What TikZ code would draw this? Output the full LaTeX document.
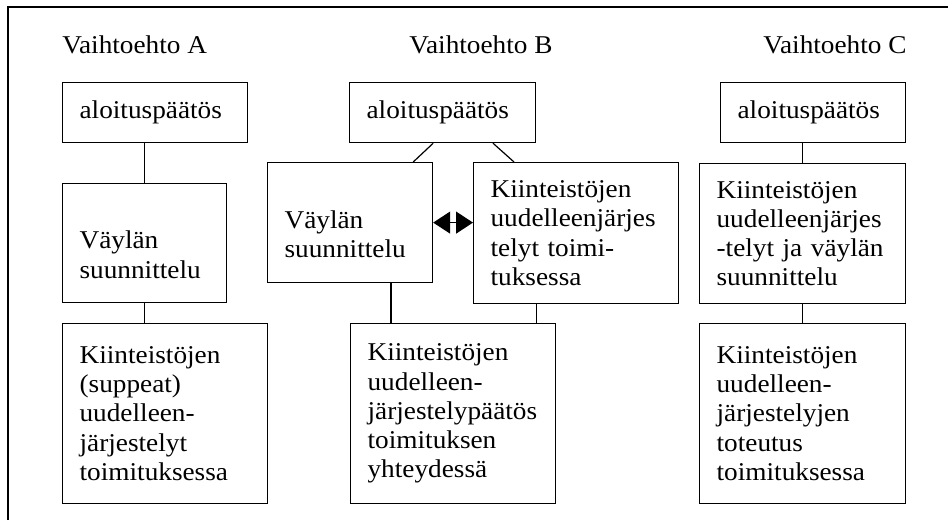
\documentclass[tikz,border=0pt]{standalone}
\usepackage{fontspec}
\setmainfont{Liberation Serif}[FakeStretch=1.065]
\usetikzlibrary{arrows.meta}
\hyphenpenalty=10000

\begin{document}
\begin{tikzpicture}[x=0.5pt, y=-0.5pt,
    font=\fontsize{12.8}{14.6}\selectfont,
    box/.style={draw, rectangle, anchor=north west, align=left, inner xsep=8.5pt, inner ysep=0pt, line width=0.6pt},
    link/.style={line width=0.6pt},
    title/.style={anchor=base west, inner sep=0pt}]
    \useasboundingbox (0,0) rectangle (948,520);
    \draw[line width=0.7pt] (8,520) -- (8,7) -- (948,7);

    % Vaihtoehto A
    \node[title] (otsA) at (62,53) {Vaihtoehto A};
    \node[box, text width=75.5pt, minimum height=30pt] (alkuA) at (62,82) {aloituspäätös};
    \node[box, text width=65pt, minimum height=59.5pt] (vaylaA) at (62,183) {\strut\\Väylän\\suunnittelu\strut};
    \node[box, text width=85.5pt, minimum height=90pt] (kiintA) at (62,323) {Kiinteistöjen\\(suppeat)\\uudelleen-\\järjestelyt\\toimituksessa};

    % Vaihtoehto B
    \node[title] (otsB) at (409,53) {Vaihtoehto B};
    \node[box, text width=76pt, minimum height=30pt] (alkuB) at (349,82) {aloituspäätös};
    \node[box, text width=65.5pt, minimum height=60pt] (vaylaB) at (267,162) {\strut\\Väylän\\suunnittelu\strut};
    \node[box, text width=85.5pt, minimum height=70.5pt] (jarjB) at (473,162) {Kiinteistöjen\\uudelleenjärjes\\telyt toimi-\\tuksessa};
    \node[box, text width=85.5pt, minimum height=90pt] (kiintB) at (350,323) {Kiinteistöjen\\uudelleen-\\järjestelypäätös\\toimituksen\\yhteydessä};

    % Vaihtoehto C
    \node[title] (otsC) at (763,53) {Vaihtoehto C};
    \node[box, text width=75.5pt, minimum height=30pt] (alkuC) at (720,82) {aloituspäätös};
    \node[box, text width=86pt, minimum height=70pt] (yhdC) at (699,163) {Kiinteistöjen\\uudelleenjärjes\\-telyt ja väylän\\suunnittelu};
    \node[box, text width=86pt, minimum height=90pt] (kiintC) at (699,323) {Kiinteistöjen\\uudelleen-\\järjestelyjen\\toteutus\\toimituksessa};

    % yhteydet
    \draw[link] (vaylaA.north) -- (vaylaA.north |- alkuA.south);
    \draw[link] (vaylaA.south) -- (vaylaA.south |- kiintA.north);

    \draw[link] (vaylaB.north east |- alkuB.south) -- ([xshift=-10pt]vaylaB.north east);
    \draw[link] ([xshift=10pt]jarjB.north west |- alkuB.south) -- ([xshift=20.5pt]jarjB.north west);
    \draw[link, {Triangle[length=8.5pt,width=11pt]}-{Triangle[length=8.5pt,width=11pt]}] (vaylaB.east) -- (vaylaB.east -| jarjB.west);
    \draw[link] ([xshift=20.5pt]kiintB.north west) -- ([xshift=20.5pt]kiintB.north west |- vaylaB.south);
    \draw[link] ([xshift=-10pt]kiintB.north east) -- ([xshift=-10pt]kiintB.north east |- jarjB.south);

    \draw[link] (yhdC.north) -- (yhdC.north |- alkuC.south);
    \draw[link] (kiintC.north) -- (yhdC.south);
\end{tikzpicture}
\end{document}
